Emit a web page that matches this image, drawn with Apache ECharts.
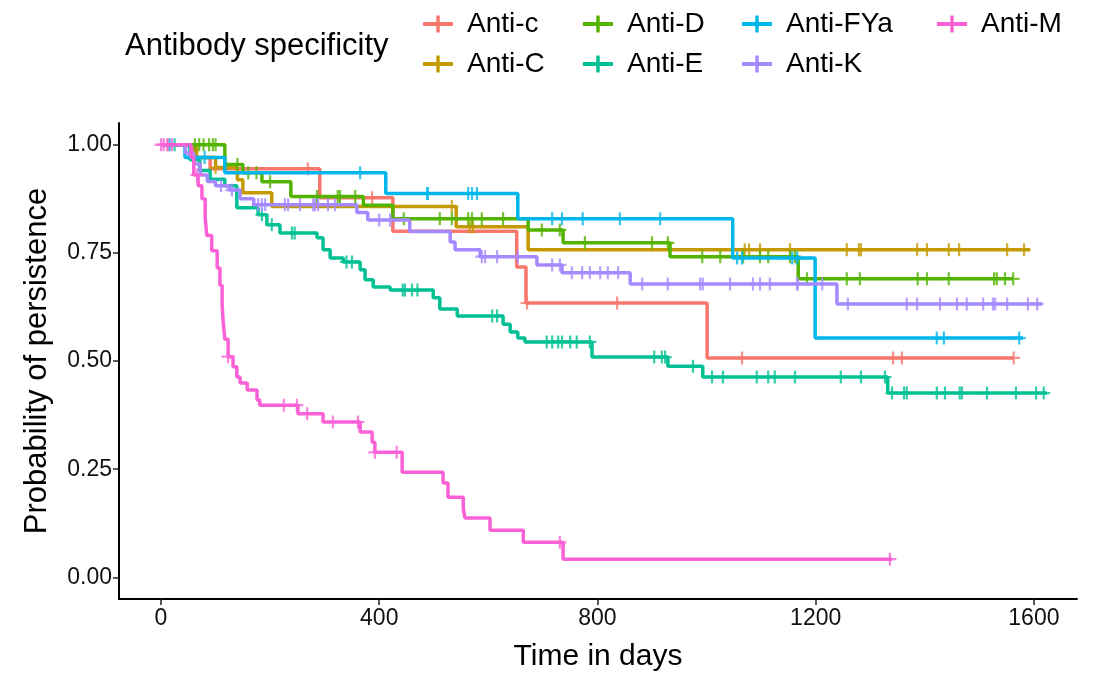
<!DOCTYPE html>
<html lang="en">
<head>
    <meta charset="UTF-8">
    <title>Persistence by antibody specificity</title>
    <script src="https://cdn.jsdelivr.net/npm/echarts@6/dist/echarts.min.js"></script>
    <style>
        html, body { margin: 0; padding: 0; background: #fff; }
        #main { width: 1102px; height: 677px; }
    </style>
</head>
<body>
<div id="main"></div>

<script type="text/javascript">
    // series names, in legend order
    var seriesNames = ['Anti-c', 'Anti-C', 'Anti-D', 'Anti-E', 'Anti-FYa', 'Anti-K', 'Anti-M'];

    // step times (days) and survival after each step, censor times, last follow-up
    var timesLowC = [0, 60, 90, 291, 425, 652, 669, 1001];
    var survLowC = [1, 0.97, 0.944, 0.877, 0.80, 0.717, 0.634, 0.507];
    var censorLowC = [12, 269, 387, 671, 836, 1065, 1342, 1358, 1563];
    var endLowC = 1563;

    var timesUpC = [0, 65, 100, 140, 150, 203, 541, 673];
    var survUpC = [1, 0.97, 0.947, 0.919, 0.889, 0.857, 0.81, 0.757];
    var censorUpC = [100, 533, 566, 572, 1070, 1078, 1098, 1153, 1257, 1279, 1283, 1386, 1404, 1444, 1463, 1551, 1582];
    var endUpC = 1593;

    var timesD = [0, 117, 150, 185, 238, 371, 425, 673, 737, 933, 1168];
    var survD = [1, 0.954, 0.935, 0.914, 0.88, 0.86, 0.829, 0.803, 0.773, 0.741, 0.69];
    var censorD = [62, 70, 78, 88, 95, 100, 140, 160, 175, 200, 286, 324, 328, 356, 445, 511, 533, 563, 570, 588, 627,
        698, 731, 777, 900, 929, 992, 1025, 1067, 1098, 1113, 1153, 1162, 1184, 1257, 1281, 1387, 1404, 1444, 1527, 1532, 1547, 1562];
    var endD = 1562;

    var timesE = [0, 53, 71, 90, 117, 139, 178, 194, 218, 286, 297, 310, 334, 365, 374, 389, 420, 499, 511, 543,
        627, 640, 654, 667, 790, 929, 993, 1332];
    var survE = [1, 0.965, 0.94, 0.92, 0.905, 0.854, 0.838, 0.815, 0.796, 0.785, 0.757, 0.738, 0.729, 0.711, 0.688, 0.671, 0.664, 0.646, 0.62, 0.604,
        0.585, 0.567, 0.553, 0.544, 0.509, 0.488, 0.463, 0.426];
    var censorE = [25, 185, 203, 240, 245, 340, 350, 443, 447, 460, 470, 607, 616, 707, 717, 728, 735, 750, 762, 786, 904, 918, 924, 975,
        1010, 1030, 1092, 1113, 1125, 1162, 1246, 1283, 1327, 1340, 1362, 1367, 1422, 1437, 1464, 1468, 1514, 1567, 1604, 1618];
    var endE = 1624;

    var timesFYa = [0, 44, 117, 412, 654, 1048, 1199];
    var survFYa = [1, 0.97, 0.935, 0.887, 0.829, 0.738, 0.553];
    var censorFYa = [16, 80, 365, 488, 489, 563, 570, 579, 717, 735, 773, 841, 915, 1056, 1065, 1157, 1166, 1422, 1435, 1573];
    var endFYa = 1580;

    var timesK = [0, 45, 60, 72, 85, 100, 125, 145, 170, 359, 379, 456, 530, 539, 585, 689, 735, 860, 1239];
    var survK = [1, 0.98, 0.955, 0.93, 0.915, 0.905, 0.895, 0.875, 0.861, 0.843, 0.826, 0.799, 0.775, 0.757, 0.741, 0.722, 0.704, 0.678, 0.632];
    var censorK = [110, 130, 178, 185, 191, 227, 233, 255, 279, 282, 288, 306, 319, 400, 420, 588, 594, 616, 654, 717, 731, 753, 772, 786,
        805, 819, 838, 882, 929, 988, 993, 1043, 1085, 1098, 1116, 1166, 1167, 1212, 1259, 1367, 1386, 1428, 1459, 1477, 1507, 1525, 1529, 1551, 1589, 1606];
    var endK = 1615;

    var timesM = [0, 55, 60, 68, 75, 81, 84, 93, 103, 108, 112, 114, 117, 123, 132, 139, 145, 158, 176, 181,
        251, 297, 365, 387, 392, 442, 517, 526, 554, 557, 603, 664, 737];
    var survM = [1, 0.97, 0.93, 0.905, 0.875, 0.83, 0.79, 0.755, 0.715, 0.675, 0.63, 0.59, 0.55, 0.51, 0.487, 0.463, 0.449, 0.433, 0.41, 0.398,
        0.378, 0.359, 0.336, 0.312, 0.289, 0.243, 0.218, 0.185, 0.16, 0.137, 0.109, 0.081, 0.042];
    var censorM = [0, 5, 12, 20, 66, 123, 225, 249, 268, 315, 361, 392, 432, 731, 1336];
    var endM = 1340;

    var xTicks = [0, 400, 800, 1200, 1600];
    var yTicks = [0, 0.25, 0.5, 0.75, 1];

    var curves = [
        [timesLowC, survLowC, censorLowC, endLowC],
        [timesUpC, survUpC, censorUpC, endUpC],
        [timesD, survD, censorD, endD],
        [timesE, survE, censorE, endE],
        [timesFYa, survFYa, censorFYa, endFYa],
        [timesK, survK, censorK, endK],
        [timesM, survM, censorM, endM]
    ];

    // ggplot default hues for 7 groups
    var colors = ['#F8766D', '#C49A00', '#53B400', '#00C094', '#00B6EB', '#A58AFF', '#FB61D7'];
    // legend slot (left, top) for each name: 4 columns x 2 rows, filled by column
    var legendSlots = [[418, 5], [418, 45], [578, 5], [578, 45], [737, 5], [737, 45], [932, 5]];

    var plusPath = 'path://M8.3,0H11.7V8.3H20V11.7H11.7V20H8.3V11.7H0V8.3H8.3Z';
    var keyPath = 'path://M0,6.5H30V10.5H0Z M13.3,0H16.7V17H13.3Z';
    var fontName = 'Liberation Sans';

    function survAt(times, surv, t) {
        var s = surv[0];
        for (var i = 0; i < times.length; i++) {
            if (times[i] <= t) s = surv[i];
        }
        return s;
    }

    var series = [];
    var legends = [];
    curves.forEach(function (c, idx) {
        var times = c[0], surv = c[1], cens = c[2], end = c[3];
        var line = times.map(function (t, i) { return [t, surv[i]]; });
        line.push([end, surv[surv.length - 1]]);
        series.push({
            name: seriesNames[idx],
            type: 'line',
            step: 'end',
            data: line,
            showSymbol: false,
            lineStyle: { width: 3.5, color: colors[idx] },
            itemStyle: { color: colors[idx] },
            z: 2 + idx
        });
        series.push({
            name: seriesNames[idx],
            type: 'scatter',
            data: cens.map(function (t) { return [t, survAt(times, surv, t)]; }),
            symbol: plusPath,
            symbolSize: 13,
            itemStyle: { color: colors[idx] },
            z: 2 + idx
        });
        legends.push({
            left: legendSlots[idx][0],
            top: legendSlots[idx][1],
            data: [{ name: seriesNames[idx], icon: keyPath }],
            itemWidth: 30,
            itemHeight: 17,
            selectedMode: false,
            textStyle: { fontSize: 28, color: '#000', fontFamily: fontName, padding: [0, 0, 0, 9] }
        });
    });

    var chartDom = document.getElementById('main');
    var myChart = echarts.init(chartDom);
    var option = {
        animation: false,
        backgroundColor: '#fff',
        textStyle: { fontFamily: fontName },
        title: {
            text: 'Antibody specificity',
            left: 120,
            top: 26,
            textStyle: { fontSize: 31, fontWeight: 'normal', color: '#000', fontFamily: fontName }
        },
        legend: legends,
        grid: { left: 119, right: 25, top: 123, bottom: 78 },
        xAxis: {
            type: 'value',
            min: -77,
            max: 1679,
            name: 'Time in days',
            nameLocation: 'middle',
            nameGap: 43,
            nameTextStyle: { fontSize: 30, color: '#000' },
            splitLine: { show: false },
            axisLine: { show: true, onZero: false, lineStyle: { color: '#000', width: 2 } },
            axisTick: { show: true, length: 6, lineStyle: { color: '#222', width: 1.5 }, customValues: xTicks },
            axisLabel: {
                fontSize: 23, color: '#111', margin: 8, customValues: xTicks,
                formatter: function (v) { return String(v); }
            }
        },
        yAxis: {
            type: 'value',
            min: -0.05,
            max: 1.05,
            name: 'Probability of persistence',
            nameLocation: 'middle',
            nameGap: 66,
            nameTextStyle: { fontSize: 31, color: '#000' },
            splitLine: { show: false },
            axisLine: { show: true, onZero: false, lineStyle: { color: '#000', width: 2 } },
            axisTick: { show: true, length: 6, lineStyle: { color: '#222', width: 1.5 }, customValues: yTicks },
            axisLabel: {
                fontSize: 23, color: '#111', margin: 7, customValues: yTicks,
                formatter: function (v) { return v.toFixed(2); }
            }
        },
        series: series
    };

    option && myChart.setOption(option);
</script>
</body>
</html>
